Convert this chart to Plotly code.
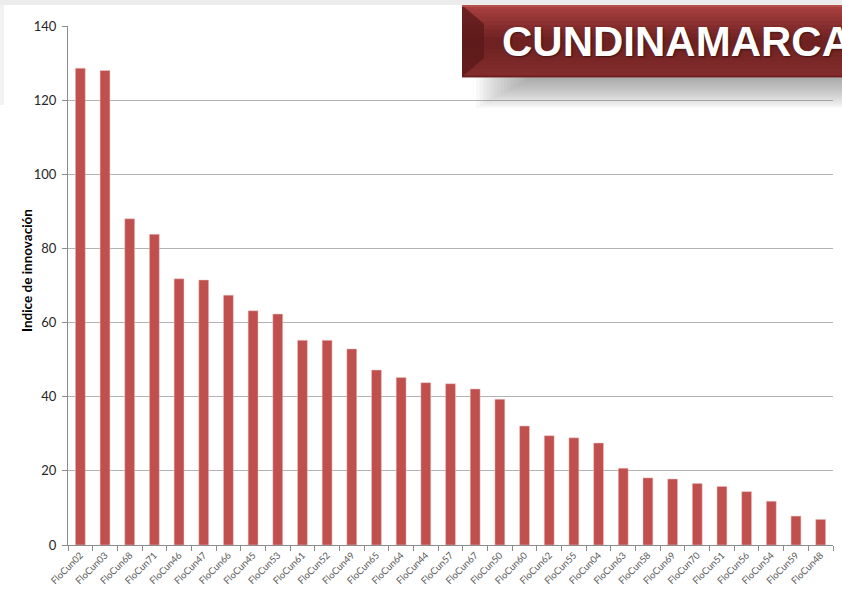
import plotly.graph_objects as go

# Floras de Cundinamarca, ordenadas por indice
codes = ["FloCun02", "FloCun03", "FloCun68", "FloCun71", "FloCun46", "FloCun47",
         "FloCun66", "FloCun45", "FloCun53", "FloCun61", "FloCun52", "FloCun49",
         "FloCun65", "FloCun64", "FloCun44", "FloCun57", "FloCun67", "FloCun50",
         "FloCun60", "FloCun62", "FloCun55", "FloCun04", "FloCun63", "FloCun58",
         "FloCun69", "FloCun70", "FloCun51", "FloCun56", "FloCun54", "FloCun59",
         "FloCun48"]
indice = [128.6, 128.0, 88.0, 83.8, 71.8, 71.5, 67.4, 63.2, 62.3, 55.2, 55.2,
          52.9, 47.2, 45.2, 43.8, 43.5, 42.1, 39.3, 32.1, 29.5, 28.9, 27.5,
          20.7, 18.1, 17.8, 16.6, 15.8, 14.4, 11.8, 7.8, 6.9]
y_ticks = [0, 20, 40, 60, 80, 100, 120, 140]

W, H = 842, 593
L, R, T, B = 68, 9, 26, 48


# pixel -> paper helpers for the decorations
def X(px):
    return (px - L) / (W - L - R)


def Y(py):
    return (H - B - py) / (H - T - B)


fig = go.Figure(go.Bar(x=codes, y=indice, marker_color="#c0504d",
                       marker_line=dict(color="rgba(240,200,200,0.8)", width=0.6)))

fig.update_xaxes(type="category", showline=True, linecolor="#8c8c8c",
                 ticks="outside", tickson="boundaries", ticklen=5,
                 tickcolor="#8c8c8c", tickangle=-45, automargin=False,
                 tickfont=dict(family="Lato", size=9.5, color="#595959"))
fig.update_yaxes(range=[0, 140], tickvals=y_ticks, showline=True,
                 linecolor="#8c8c8c", ticks="outside", ticklen=5,
                 tickcolor="#8c8c8c", gridcolor="#b3b3b3", gridwidth=1,
                 zeroline=False, automargin=False, ticklabelstandoff=3,
                 tickfont=dict(family="Lato", size=13, color="#262626"))

shapes = []
# light frame at top / left
shapes.append(dict(type="rect", xref="paper", yref="paper", x0=X(0), x1=X(W),
                   y0=Y(0), y1=Y(5), fillcolor="#ececec", line_width=0, layer="above"))
shapes.append(dict(type="rect", xref="paper", yref="paper", x0=X(0), x1=X(4),
                   y0=Y(5), y1=Y(105), fillcolor="#f2f2f2", line_width=0, layer="above"))
# soft shadow under the banner
for i in range(16):
    shapes.append(dict(type="rect", xref="paper", yref="paper",
                       x0=X(476 + i * 3.5), x1=X(W + 5), y0=Y(77), y1=Y(108 - i * 1.9),
                       fillcolor="#7a7a7a", opacity=0.05, line_width=0, layer="above"))
# banner body with vertical gradient
top_c = (168, 64, 64)
mid_c = (108, 32, 32)
bot_c = (132, 44, 44)
n = 18
y_a, y_b = 5, 77
for i in range(n):
    t = i / (n - 1)
    if t < 0.5:
        s = t / 0.5
        c = [round(top_c[k] + (mid_c[k] - top_c[k]) * s) for k in range(3)]
    else:
        s = (t - 0.5) / 0.5
        c = [round(mid_c[k] + (bot_c[k] - mid_c[k]) * s) for k in range(3)]
    ya = y_a + (y_b - y_a) * i / n
    yb = y_a + (y_b - y_a) * (i + 1) / n
    shapes.append(dict(type="rect", xref="paper", yref="paper",
                       x0=X(462), x1=X(W + 5), y0=Y(ya), y1=Y(yb + 0.5),
                       fillcolor="rgb(%d,%d,%d)" % tuple(c), line_width=0, layer="above"))
# bevel on left edge
shapes.append(dict(type="path", xref="paper", yref="paper",
                   path="M %f,%f L %f,%f L %f,%f L %f,%f Z" % (
                       X(462), Y(5), X(484), Y(24), X(484), Y(58), X(462), Y(77)),
                   fillcolor="#5a1818", opacity=0.75, line_width=0, layer="above"))
shapes.append(dict(type="rect", xref="paper", yref="paper", x0=X(462), x1=X(W + 5),
                   y0=Y(5), y1=Y(7), fillcolor="#b85050", line_width=0, layer="above"))
shapes.append(dict(type="rect", xref="paper", yref="paper", x0=X(462), x1=X(W + 5),
                   y0=Y(75.5), y1=Y(77), fillcolor="#6a2020", line_width=0, layer="above"))

fig.update_layout(
    width=W, height=H, autosize=False,
    plot_bgcolor="white", paper_bgcolor="white",
    margin=dict(l=L, r=R, t=T, b=B, autoexpand=False),
    bargap=0.6, showlegend=False,
    shapes=shapes,
    annotations=[
        dict(text="Indice de innovación", textangle=-90, showarrow=False,
             xref="paper", yref="paper", x=X(27), y=Y(271),
             xanchor="center", yanchor="middle",
             font=dict(family="Lato", size=13.5, color="black", weight=700)),
        dict(text="CUNDINAMARCA", showarrow=False, xref="paper", yref="paper",
             x=X(500), y=Y(41), xanchor="left", yanchor="middle",
             font=dict(family="Liberation Sans", size=42, color="white", weight=700,
                       shadow="1px 1px 2px rgba(0,0,0,0.5)")),
    ],
)

fig.write_html("out.html", config={"displayModeBar": False},
               post_script="document.body.style.margin='0';")
